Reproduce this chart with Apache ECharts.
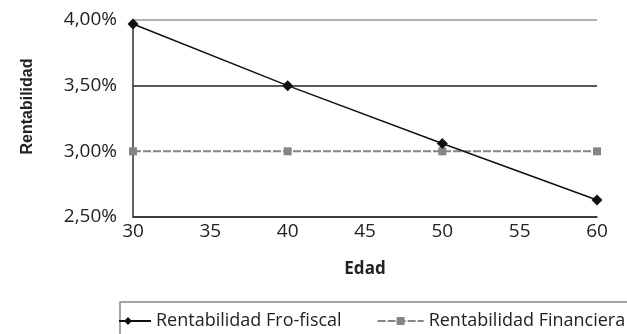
<!DOCTYPE html>
<html>
<head>
<meta charset="utf-8">
<script src="https://cdn.jsdelivr.net/npm/echarts@6/dist/echarts.min.js"></script>
<style>
  html, body { margin: 0; padding: 0; background: #fff; }
  #chart { width: 627px; height: 334px; }
</style>
</head>
<body>
<div id="chart"></div>
<script>
// Edad (años) y rentabilidad (%)
const edades = [30, 40, 50, 60];
const rentFroFiscal = [3.97, 3.50, 3.06, 2.63];
const rentFinanciera = [3.00, 3.00, 3.00, 3.00];
const serieNombres = ["Rentabilidad Fro-fiscal", "Rentabilidad Financiera"];

const font = "'Open Sans', sans-serif";
const pct = (v) => v.toFixed(2).replace(".", ",") + "%";

const chart = echarts.init(document.getElementById("chart"));
chart.setOption({
  animation: false,
  textStyle: { fontFamily: font },
  grid: { left: 133, right: 30, top: 20, bottom: 117 },
  // marco de la leyenda (recortado por el borde, como el original)
  graphic: [
    {
      type: "rect",
      shape: { x: 120, y: 302, width: 540, height: 60 },
      style: { fill: "none", stroke: "#888", lineWidth: 1.5 },
      z: 1,
    },
    {
      type: "rect",
      shape: { x: 0, y: 300, width: 119, height: 40 },
      style: { fill: "#fff" },
      z: 100,
    },
  ],
  legend: {
    left: 104,
    top: 312,
    padding: 0,
    itemWidth: 46,
    itemHeight: 10,
    itemGap: 35,
    textStyle: { fontFamily: font, fontSize: 18, color: "#222" },
    data: serieNombres,
  },
  xAxis: {
    type: "value",
    min: 30,
    max: 60,
    interval: 5,
    name: "Edad",
    nameLocation: "middle",
    nameGap: 44,
    nameTextStyle: { fontFamily: font, fontSize: 17, fontWeight: "bold", color: "#222" },
    axisLine: { lineStyle: { color: "#333", width: 1.5 } },
    axisTick: { show: false },
    splitLine: { show: false },
    axisLabel: { fontSize: 19, color: "#222", margin: 5 },
  },
  yAxis: {
    type: "value",
    min: 2.5,
    max: 4,
    interval: 0.5,
    name: "Rentabilidad",
    nameLocation: "middle",
    nameGap: 97,
    nameTextStyle: {
      fontFamily: "'Liberation Sans', Arial, sans-serif",
      fontSize: 16,
      fontWeight: "bold",
      color: "#222",
      padding: [0, 0, 0, 24],
    },
    axisLine: { show: true, lineStyle: { color: "#333", width: 1.5 } },
    axisTick: { show: false },
    splitLine: { lineStyle: { color: ["#222", "#fff", "#222", "#999"], width: 1.5 } },
    axisLabel: { fontSize: 19, color: "#222", margin: 16, formatter: pct },
  },
  series: [
    {
      name: serieNombres[0],
      type: "line",
      data: edades.map((e, i) => [e, rentFroFiscal[i]]),
      symbol: "diamond",
      symbolSize: 11,
      itemStyle: { color: "#111" },
      lineStyle: { color: "#111", width: 1.5 },
      z: 3,
    },
    {
      name: serieNombres[1],
      type: "line",
      data: edades.map((e, i) => [e, rentFinanciera[i]]),
      symbol: "rect",
      symbolSize: 8,
      itemStyle: { color: "#858585" },
      lineStyle: { color: "#858585", width: 2, type: [8, 2] },
      z: 2,
    },
  ],
});
</script>
</body>
</html>
